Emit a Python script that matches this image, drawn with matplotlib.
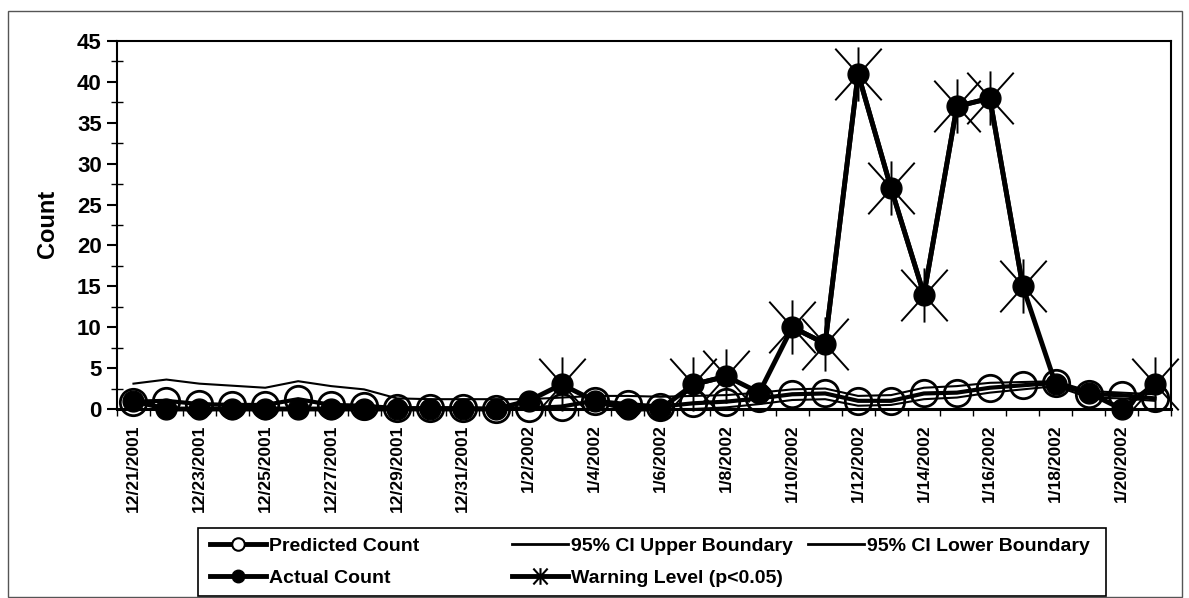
import matplotlib
matplotlib.use("Agg")
import matplotlib.pyplot as plt
import numpy as np
from matplotlib.path import Path
from matplotlib.lines import Line2D
from matplotlib.patches import Rectangle

plt.rcParams['font.family'] = ['Liberation Sans', 'DejaVu Sans']
plt.rcParams['font.weight'] = 'bold'

# Data
dates = ['12/21/2001', '12/22/2001', '12/23/2001', '12/24/2001', '12/25/2001',
         '12/26/2001', '12/27/2001', '12/28/2001', '12/29/2001', '12/30/2001',
         '12/31/2001', '1/1/2002', '1/2/2002', '1/3/2002', '1/4/2002',
         '1/5/2002', '1/6/2002', '1/7/2002', '1/8/2002', '1/9/2002',
         '1/10/2002', '1/11/2002', '1/12/2002', '1/13/2002', '1/14/2002',
         '1/15/2002', '1/16/2002', '1/17/2002', '1/18/2002', '1/19/2002',
         '1/20/2002', '1/21/2002']

actual = [1, 0, 0, 0, 0, 0, 0, 0, 0, 0, 0, 0, 1, 3, 1, 0, 0, 3, 4, 2,
          10, 8, 41, 27, 14, 37, 38, 15, 3, 2, 0, 3]

predicted = [0.9, 1.0, 0.6, 0.5, 0.5, 1.2, 0.5, 0.4, 0.1, 0.1, 0.1, 0.0,
             0.1, 0.3, 1.0, 0.6, 0.3, 0.7, 0.9, 1.3, 1.8, 1.9, 1.0, 1.0,
             1.9, 2.0, 2.6, 2.9, 3.2, 1.8, 1.7, 1.3]

ci_upper = [3.1, 3.6, 3.1, 2.85, 2.6, 3.4, 2.8, 2.4, 1.3, 1.2, 1.2, 1.2,
            1.2, 1.4, 1.6, 1.6, 1.5, 1.6, 1.7, 2.0, 2.4, 2.5, 1.6, 1.7,
            2.6, 2.8, 3.2, 3.3, 3.4, 2.2, 2.0, 1.8]

ci_lower = [0, 0, 0, 0, 0, 0, 0, 0, 0, 0, 0, 0,
            0, 0, 0, 0, 0, 0, 0.2, 0.6, 1.1, 1.2, 0.4, 0.5,
            1.2, 1.4, 2.0, 2.4, 2.8, 1.4, 1.3, 1.0]

warning = [np.nan] * 13 + [3] + [np.nan] * 3 + [3, 4, np.nan, 10, 8, 41, 27, 14,
                                                37, 38, 15, np.nan, np.nan, np.nan, 3]

x = np.arange(len(dates))

# asterisk marker (X plus vertical bar)
star_path = Path([(-0.9, -1), (0.9, 1), (-0.9, 1), (0.9, -1), (0, -1.05), (0, 1.05)],
                 [Path.MOVETO, Path.LINETO] * 3)

fig = plt.figure(figsize=(11.89, 5.98), dpi=100)
ax = fig.add_axes([117 / 1189, 1 - 409 / 598, 1054 / 1189, 368 / 598])

ax.plot(x, ci_upper, color='black', lw=1.5, zorder=3, clip_on=False)
ax.plot(x, ci_lower, color='black', lw=1.5, zorder=3, clip_on=False)
ax.plot(x, predicted, color='black', lw=3, marker='o', markersize=19,
        markerfacecolor='none', markeredgewidth=2, zorder=4, clip_on=False)
ax.plot(x, actual, color='black', lw=3.5, marker='o', markersize=15,
        markerfacecolor='black', zorder=5, clip_on=False)
ax.plot(x, warning, color='black', lw=3.5, marker=star_path, markersize=39,
        markeredgewidth=1.4, zorder=6, clip_on=False)

ax.set_xlim(-0.5, len(dates) - 0.5)
ax.set_ylim(0, 45)

# y axis
ax.set_yticks(np.arange(0, 46, 5))
ax.set_yticks(np.arange(2.5, 45, 5), minor=True)
ax.tick_params(axis='y', which='major', direction='out', length=7, width=1.5,
               labelsize=16, pad=4)
ax.tick_params(axis='y', which='minor', direction='inout', length=9, width=1)

# x axis: ticks at category boundaries, labels every other day
ax.set_xticks(np.arange(-0.5, len(dates), 1))
ax.set_xticklabels([])
ax.set_xticks(x[::2], minor=True)
ax.set_xticklabels(dates[::2], minor=True, rotation=90, fontsize=12.5,
                   fontweight='bold')
ax.tick_params(axis='x', which='major', direction='out', length=5, width=1)
ax.tick_params(axis='x', which='minor', length=0, pad=11)

for s in ax.spines.values():
    s.set_linewidth(1.5)
ax.spines['bottom'].set_linewidth(2.2)

fig.text(47.5 / 1189, 1 - 224 / 598, 'Count', rotation=90, ha='center',
         va='center', fontsize=17, fontweight='bold')

# outer chart border
fig.patches.append(Rectangle((8 / 1189, 1 / 598), 1174 / 1189, 586 / 598,
                             transform=fig.transFigure, fill=False,
                             edgecolor='#555555', lw=1))

# legend box
fig.patches.append(Rectangle((198 / 1189, 1 - 596 / 598), 908 / 1189, 68 / 598,
                             transform=fig.transFigure, fill=False,
                             edgecolor='black', lw=1.2, zorder=10))

h_pred = Line2D([], [], color='black', lw=3.5, marker='o', markersize=9,
                markerfacecolor='white', markeredgewidth=1.5)
h_act = Line2D([], [], color='black', lw=3.5, marker='o', markersize=9,
               markerfacecolor='black')
h_up = Line2D([], [], color='black', lw=2)
h_low = Line2D([], [], color='black', lw=2)
h_warn = Line2D([], [], color='black', lw=3.5, marker=star_path, markersize=12,
                markeredgewidth=1.5)

leg_kw = dict(frameon=False, loc='upper left', borderpad=0, borderaxespad=0,
              handlelength=2.9, handletextpad=0.15, labelspacing=0.75,
              prop={'size': 14, 'weight': 'bold'})
cols = [([h_pred, h_act], ['Predicted Count', 'Actual Count'], 210),
        ([h_up, h_warn], ['95% CI Upper Boundary', 'Warning Level (p<0.05)'], 512),
        ([h_low], ['95% CI Lower Boundary'], 808)]
for hs, labs, px in cols:
    lg = fig.legend(hs, labs, bbox_to_anchor=(px / 1189, 1 - 537 / 598), **leg_kw)

fig.savefig('out.png', dpi=100)
